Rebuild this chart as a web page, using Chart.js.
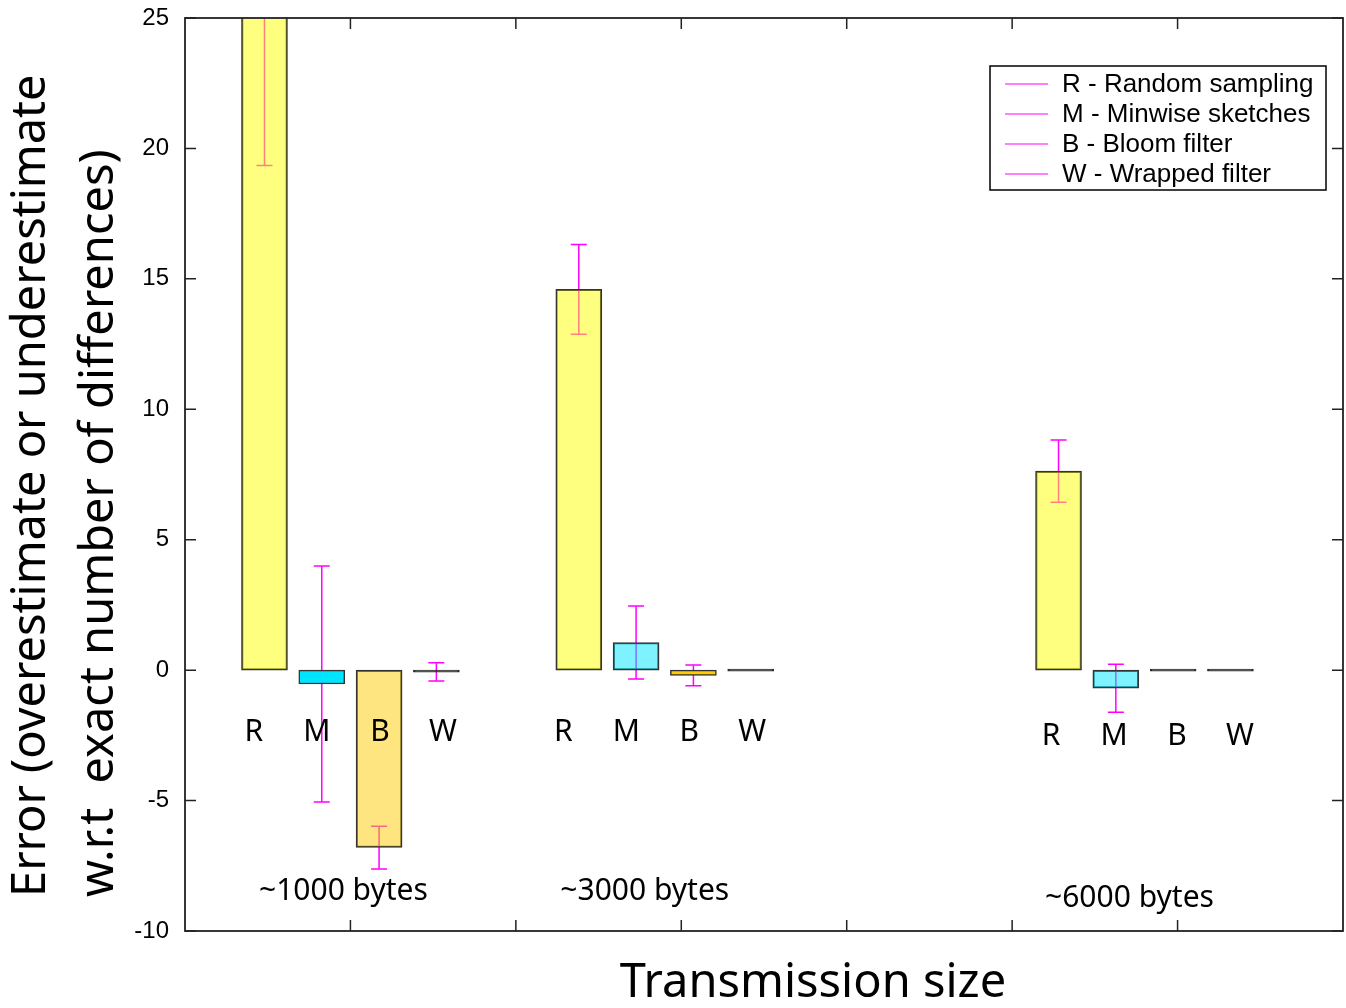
<!DOCTYPE html>
<html>
<head>
<meta charset="utf-8">
<title>Error vs transmission size</title>
<script src="https://cdn.jsdelivr.net/npm/chart.js@4.4.0/dist/chart.umd.min.js"></script>
<style>
    html, body { margin: 0; padding: 0; background: #fff; }
</style>
</head>
<body>
<canvas id="errChart" width="1346" height="1008"></canvas>
<script>
// 分组（传输大小）以及它们在 x 轴上的位置
const groupLabels = ['~1000 bytes', '~3000 bytes', '~6000 bytes'];
const groupX = [1.0, 2.9, 5.8];

// 系列
const seriesCodes = ['R', 'M', 'B', 'W'];
const seriesNames = ['R - Random sampling', 'M - Minwise sketches', 'B - Bloom filter', 'W - Wrapped filter'];

// 平均误差和误差棒（±）
const randomMean = [27, 14.6, 7.63];
const randomErr = [7.65, 1.72, 1.19];
const minwiseMean = [-0.53, 1.06, -0.69];
const minwiseErr = [4.52, 1.4, 0.92];
const bloomMean = [-6.8, -0.2, 0];
const bloomErr = [0.82, 0.4, 0];
const wrappedMean = [-0.07, 0, 0];
const wrappedErr = [0.35, 0, 0];

// y 轴刻度
const yMin = -10;
const yMax = 25;
const yStep = 5;
const xTickValues = [1, 2, 3, 4, 5, 6];

// 布局（像素）
const BAR_GAP_PX = 57.3;
const LABEL_GAP_PX = 63;
const codeLabelShift = [-2, -7, 1];
const codeLabelY = [-2.4, -2.4, -2.55];
const groupLabelShift = [-7, -20, -15];
const groupLabelY = [-8.5, -8.5, -8.75];

const means = [randomMean, minwiseMean, bloomMean, wrappedMean];
const errs = [randomErr, minwiseErr, bloomErr, wrappedErr];

const fills = [
    ['rgba(255,255,0,0.5)', 'rgba(255,255,0,0.5)', 'rgba(255,255,0,0.5)'],
    ['#00e5ff', 'rgba(0,229,255,0.5)', 'rgba(0,229,255,0.5)'],
    ['rgba(255,204,0,0.5)', '#ffcc00', '#111'],
    ['#111', '#111', '#111']
];

const SANS = '"Noto Sans", "Open Sans", sans-serif';
const HELV = '"Liberation Sans", Arial, sans-serif';

/**
 * 柱子在 x 轴上的偏移（以数据单位计）
 */
function barOffset(xScale, s) {
    const unit = xScale.getPixelForValue(1) - xScale.getPixelForValue(0);
    return (s - 1.5) * BAR_GAP_PX / unit;
}

// 画误差棒（在柱子之前画，半透明柱子会盖在上面）
const errorBars = {
    id: 'errorBars',
    beforeDatasetsDraw(chart) {
        const { ctx, chartArea, scales: { y } } = chart;
        ctx.save();
        ctx.beginPath();
        ctx.rect(chartArea.left, chartArea.top, chartArea.right - chartArea.left, chartArea.bottom - chartArea.top);
        ctx.clip();
        ctx.strokeStyle = '#ff00ff';
        ctx.lineWidth = 1.5;
        chart.data.datasets.forEach((ds, s) => {
            const meta = chart.getDatasetMeta(s);
            meta.data.forEach((bar, g) => {
                const e = errs[s][g];
                if (!e) return;
                const top = y.getPixelForValue(means[s][g] + e);
                const bot = y.getPixelForValue(means[s][g] - e);
                ctx.beginPath();
                ctx.moveTo(bar.x, top);
                ctx.lineTo(bar.x, bot);
                ctx.moveTo(bar.x - 8, top);
                ctx.lineTo(bar.x + 8, top);
                ctx.moveTo(bar.x - 8, bot);
                ctx.lineTo(bar.x + 8, bot);
                ctx.stroke();
            });
        });
        ctx.restore();
    }
};

// 边框、内向刻度、文字标注、图例和轴标题
const decorations = {
    id: 'decorations',
    afterDraw(chart) {
        const { ctx, chartArea: a, scales: { x, y } } = chart;
        ctx.save();

        // 边框
        ctx.strokeStyle = '#222';
        ctx.lineWidth = 1.8;
        ctx.strokeRect(a.left, a.top, a.right - a.left, a.bottom - a.top);

        // 内向刻度
        ctx.lineWidth = 1.5;
        ctx.beginPath();
        for (let v = yMin; v <= yMax; v += yStep) {
            const py = y.getPixelForValue(v);
            ctx.moveTo(a.left, py);
            ctx.lineTo(a.left + 11, py);
            ctx.moveTo(a.right, py);
            ctx.lineTo(a.right - 11, py);
        }
        xTickValues.forEach(v => {
            const px = x.getPixelForValue(v);
            ctx.moveTo(px, a.top);
            ctx.lineTo(px, a.top + 11);
            ctx.moveTo(px, a.bottom);
            ctx.lineTo(px, a.bottom - 11);
        });
        ctx.stroke();

        // R M B W 标签
        ctx.fillStyle = '#000';
        ctx.textAlign = 'center';
        ctx.textBaseline = 'middle';
        ctx.font = '30px ' + SANS;
        groupX.forEach((gx, g) => {
            const cx = x.getPixelForValue(gx) + codeLabelShift[g];
            const cy = y.getPixelForValue(codeLabelY[g]);
            seriesCodes.forEach((code, s) => {
                ctx.fillText(code, cx + (s - 1.5) * LABEL_GAP_PX, cy);
            });
        });

        // 分组标签
        ctx.font = '30px ' + SANS;
        groupLabels.forEach((label, g) => {
            const cx = x.getPixelForValue(groupX[g]) + groupLabelShift[g];
            ctx.fillText(label, cx, y.getPixelForValue(groupLabelY[g]));
        });

        // 图例
        ctx.lineWidth = 1.5;
        ctx.strokeStyle = '#000';
        ctx.strokeRect(990, 66, 336, 124);
        ctx.font = '26px ' + HELV;
        ctx.textAlign = 'left';
        seriesNames.forEach((name, i) => {
            const ly = 84 + i * 30;
            ctx.strokeStyle = '#ff00ff';
            ctx.lineWidth = 1.2;
            ctx.beginPath();
            ctx.moveTo(1005, ly);
            ctx.lineTo(1048, ly);
            ctx.stroke();
            ctx.fillText(name, 1062, ly + 1);
        });

        // x 轴标题
        ctx.textAlign = 'center';
        ctx.font = '47px ' + SANS;
        ctx.fillText('Transmission size', 813, 984);

        // y 轴标题（两行，旋转）
        ctx.translate(0, 897);
        ctx.rotate(-Math.PI / 2);
        ctx.textAlign = 'left';
        ctx.font = '47px ' + SANS;
        ctx.fillText('Error (overestimate or underestimate', 0, 32);
        ctx.fillText('w.r.t  exact number of differences)', 0, 100);

        ctx.restore();
    }
};

function initChart() {
    const ctx = document.getElementById('errChart').getContext('2d');
    new Chart(ctx, {
        type: 'bar',
        data: {
            datasets: seriesCodes.map((code, s) => ({
                label: seriesNames[s],
                data: groupX.map((gx, g) => ({ x: gx, y: means[s][g] })),
                backgroundColor: fills[s],
                borderColor: '#333',
                borderWidth: 1.5,
                borderSkipped: false,
                barThickness: 46,
                minBarLength: 2,
                grouped: false,
                clip: 0
            }))
        },
        options: {
            responsive: false,
            animation: false,
            devicePixelRatio: 1,
            layout: { padding: { top: 18, right: 3, left: 0, bottom: 0 } },
            plugins: {
                legend: { display: false },
                tooltip: { enabled: false }
            },
            scales: {
                x: {
                    type: 'linear',
                    offset: false,
                    min: 0,
                    max: 7,
                    ticks: { display: false, stepSize: 1 },
                    grid: { display: false, offset: false },
                    border: { display: false },
                    afterFit: scale => { scale.height = 77; }
                },
                y: {
                    min: yMin,
                    max: yMax,
                    ticks: {
                        stepSize: yStep,
                        color: '#000',
                        padding: 8,
                        font: { family: HELV, size: 24 }
                    },
                    grid: { display: false },
                    border: { display: false },
                    afterFit: scale => {
                        scale.width = 185;
                        scale.paddingTop = 0;
                        scale.paddingBottom = 0;
                    }
                }
            }
        },
        plugins: [
            {
                // 按系列把柱子从分组中心平移
                id: 'barShift',
                afterDatasetsUpdate(chart) {
                    const xs = chart.scales.x;
                    chart.data.datasets.forEach((ds, s) => {
                        const meta = chart.getDatasetMeta(s);
                        meta.data.forEach((bar, g) => {
                            bar.x = xs.getPixelForValue(groupX[g] + barOffset(xs, s));
                        });
                    });
                }
            },
            errorBars,
            decorations
        ]
    });
}

initChart();
</script>
</body>
</html>
